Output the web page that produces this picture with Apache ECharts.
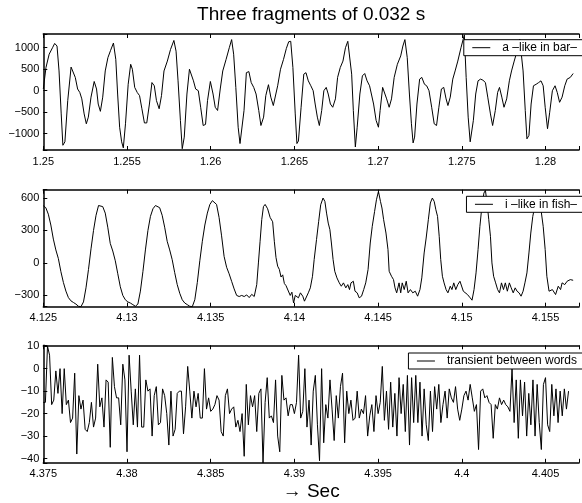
<!DOCTYPE html>
<html><head><meta charset="utf-8">
<script src="https://cdn.jsdelivr.net/npm/echarts@6/dist/echarts.min.js"></script>
<style>html,body{margin:0;padding:0;background:#fff}#c{width:582px;height:503px}</style>
</head><body><div id="c"></div>
<script>
// ---- data ----
const chartTitle = 'Three fragments of 0.032 s';
const xName = '\u2192 Sec';
const seriesNames = ['a \u2013like in bar\u2013', 'i \u2013like in fish\u2013', 'transient between words'];
const startTimes = [1.25, 4.125, 4.375];      // s
const fragmentLength = 0.032;                  // s
const xTickStep = 0.005;                       // s
const yTickSteps = [500, 300, 10];
const yLimits = [[-1380, 1320], [-404, 676], [-41.9, 10.4]];

// fragment 1: time offsets (ms) and amplitude
const ms1 = [0.00,0.16,0.35,0.55,0.68,0.82,0.94,1.07,1.17,1.29,1.46,1.66,1.75,1.91,2.05,2.18,2.30,2.44,2.57,2.69,2.85,3.04,3.18,3.28,3.41,3.55,3.70,3.86,4.02,4.19,4.33,4.44,4.56,4.68,4.78,4.91,5.07,5.22,5.32,5.46,5.61,5.75,5.89,6.04,6.18,6.34,6.49,6.63,6.76,6.92,7.06,7.21,7.41,7.60,7.80,7.93,8.05,8.19,8.30,8.42,8.58,8.73,8.83,8.97,9.10,9.26,9.40,9.55,9.69,9.81,9.98,10.14,10.27,10.41,10.57,10.72,10.92,11.11,11.25,11.37,11.50,11.64,11.75,11.85,11.99,12.13,12.28,12.42,12.57,12.71,12.87,13.00,13.16,13.29,13.45,13.59,13.74,13.84,14.00,14.17,14.35,14.52,14.66,14.78,14.91,15.05,15.15,15.24,15.40,15.56,15.69,15.83,15.98,16.12,16.24,16.37,16.49,16.63,16.76,16.90,17.02,17.15,17.29,17.45,17.58,17.74,17.90,18.05,18.19,18.29,18.42,18.52,18.64,18.75,18.91,19.06,19.20,19.34,19.49,19.59,19.73,19.88,20.02,20.12,20.27,20.37,20.51,20.66,20.80,20.96,21.15,21.35,21.48,21.60,21.74,21.87,21.99,22.09,22.18,22.32,22.48,22.61,22.77,22.90,23.04,23.20,23.35,23.49,23.63,23.78,23.92,24.06,24.17,24.31,24.46,24.60,24.76,24.95,25.15,25.26,25.38,25.50,25.58,25.69,25.83,25.97,26.12,26.26,26.41,26.55,26.71,26.84,27.00,27.14,27.25,27.39,27.52,27.68,27.84,27.97,28.13,28.30,28.46,28.66,28.79,28.89,29.01,29.14,29.28,29.44,29.59,29.73,29.86,29.98,30.12,30.25,30.41,30.57,30.70,30.84,30.99,31.15,31.29,31.48,31.65];
const v1 = [40,540,850,1000,1100,1040,460,-540,-1270,-1190,-230,550,550,310,40,-40,-190,-540,-770,-615,-150,215,40,-310,-480,-150,460,770,940,1110,730,-77,-850,-1190,-1330,-770,150,615,500,77,-40,-115,-420,-750,-750,-310,190,115,-230,-420,-115,460,690,960,1170,920,230,-690,-1350,-1080,-77,500,520,230,40,0,-385,-810,-785,-230,215,-77,-385,-460,40,460,730,1000,1190,850,77,-850,-1230,-1270,-460,420,445,190,77,-77,-460,-810,-615,-115,140,-150,-345,-345,115,500,730,985,1140,1150,540,-540,-1230,-1170,-385,385,420,230,115,0,-310,-615,-810,-460,0,77,-77,-310,-385,-190,310,540,690,1000,1150,1110,385,-460,-1310,-850,-77,345,400,230,115,77,-310,-690,-850,-460,77,115,-190,-385,-190,310,615,810,1040,1190,770,-77,-770,-1215,-1080,-310,270,310,150,115,0,-385,-770,-810,-385,40,77,-190,-345,-150,270,460,690,1000,1300,310,-615,-1190,-1190,-690,-77,230,270,245,190,-150,-540,-810,-460,-40,77,-150,-385,-190,230,460,690,920,1200,460,-460,-1120,-1040,-310,115,150,190,230,115,-385,-885,-500,0,115,-40,-270,-150,115,270,310,400];

// fragment 2: time offsets (ms) and amplitude
const ms2 = [0.00,0.15,0.30,0.45,0.60,0.75,0.90,1.05,1.20,1.35,1.50,1.65,1.80,1.95,2.10,2.25,2.40,2.55,2.70,2.85,3.00,3.15,3.30,3.40,3.55,3.70,3.85,4.00,4.15,4.30,4.45,4.60,4.75,4.90,5.05,5.20,5.35,5.50,5.65,5.80,5.95,6.10,6.25,6.40,6.55,6.70,6.80,6.95,7.10,7.25,7.40,7.55,7.70,7.85,8.00,8.15,8.30,8.45,8.60,8.75,8.90,9.05,9.20,9.35,9.50,9.65,9.80,9.95,10.10,10.20,10.35,10.50,10.65,10.80,10.95,11.10,11.25,11.40,11.55,11.70,11.85,12.00,12.15,12.30,12.45,12.60,12.75,12.85,12.95,13.05,13.15,13.25,13.40,13.55,13.70,13.80,13.90,14.00,14.10,14.20,14.30,14.40,14.50,14.60,14.75,14.85,14.95,15.05,15.24,15.36,15.50,15.60,15.69,15.83,15.95,16.08,16.18,16.32,16.45,16.57,16.71,16.82,16.92,17.02,17.12,17.21,17.31,17.41,17.54,17.68,17.80,17.93,18.07,18.19,18.29,18.38,18.52,18.62,18.75,18.87,19.01,19.14,19.26,19.40,19.53,19.65,19.79,19.90,20.02,20.14,20.23,20.33,20.47,20.59,20.66,20.80,20.92,21.01,21.11,21.25,21.35,21.44,21.56,21.68,21.79,21.93,22.07,22.22,22.36,22.50,22.61,22.75,22.87,23.00,23.12,23.24,23.35,23.45,23.55,23.65,23.74,23.84,23.94,24.06,24.17,24.31,24.41,24.52,24.64,24.76,24.89,24.99,25.09,25.19,25.34,25.50,25.61,25.73,25.85,25.97,26.08,26.20,26.32,26.41,26.51,26.61,26.71,26.80,26.90,27.02,27.14,27.25,27.37,27.49,27.60,27.72,27.84,27.95,28.07,28.19,28.30,28.42,28.54,28.66,28.77,28.89,29.01,29.12,29.24,29.36,29.59,29.73,29.86,29.98,30.08,30.21,30.41,30.60,30.76,30.90,30.99,31.15,31.29,31.48,31.65];
const v2 = [528,510,450,350,220,120,40,-80,-180,-260,-320,-350,-365,-380,-400,-404,-360,-230,-60,130,300,440,530,540,520,460,330,180,110,20,-100,-220,-300,-340,-360,-370,-385,-400,-380,-260,-80,120,300,430,500,530,530,510,440,330,200,120,30,-90,-200,-280,-340,-370,-385,-400,-404,-340,-180,20,200,350,460,540,575,585,540,420,250,60,-40,-100,-170,-240,-300,-310,-300,-310,-295,-320,-290,-310,-200,0,200,400,520,540,500,420,380,200,50,-30,-60,-130,-110,-190,-210,-200,-300,-270,-370,-300,-322,-276,-307,-353,-344,-276,-230,-123,31,215,384,537,599,568,460,368,307,184,31,-77,-138,-184,-215,-184,-230,-200,-246,-184,-169,-261,-276,-322,-307,-246,-184,-61,184,338,476,583,660,568,507,399,276,123,-77,-123,-154,-230,-276,-184,-276,-184,-246,-169,-276,-246,-276,-261,-307,-246,-138,92,230,399,553,599,568,491,430,246,31,-123,-184,-246,-276,-215,-246,-184,-246,-200,-169,-154,-261,-276,-292,-322,-344,-246,-92,123,338,522,645,670,553,399,246,0,-123,-184,-246,-276,-184,-246,-184,-261,-184,-230,-276,-230,-261,-276,-307,-261,-184,-92,92,276,430,522,614,491,338,123,-123,-261,-246,-292,-215,-246,-184,-200,-169,-154,-160];

// fragment 3: samples at 8 kHz
const sampleStep3 = 0.125; // ms
const v3 = [-15,-15,10,6,-16,-14,-1,-11,0,-20,0,-16,-14,-24,-22,-2,-38,-12,-18,-14,-27,-28,-24,-15,-26,-22,2,-17,-13,-26,-5,-6,-35,5,-8,-13,-13,-25,2,-5,
-37,6,-10,-25,-9,-26,6,-26,-26,-5,-10,-9,-30,-12,-8,-25,-24,-9,-12,-20,-34,-10,-30,-27,-11,-10,-10,-29,-17,1,-10,-22,-10,-17,-11,-22,-22,0,-18,-13,
-19,-18,-16,-12,-14,-28,-30,-12,-9,-20,-18,-17,-26,-23,-28,-20,-39,-7,-25,-12,-17,-12,-28,-11,-9,-42,-15,-4,-22,-21,-24,-5,-30,-37,-3,-14,-13,-21,-16,-16,
-20,-15,6,-22,-19,0,-26,-14,-34,-10,-3,-25,-41,0,-33,-16,-22,-5,-18,-32,-12,-22,-8,-2,-33,-10,-20,-14,-23,-22,-10,-22,-18,-20,-12,-30,-21,-16,-28,-12,
-20,-15,1,-23,-10,-27,-6,-26,-11,-30,-4,-20,-7,-28,-3,-34,-4,-24,-3,-24,-6,-30,-9,-25,-32,-10,-28,-8,-18,-7,-24,-16,-10,-22,-9,-13,-15,-8,-18,-23,
-18,-12,-10,-14,-7,-13,-19,-16,-36,-10,-9,-13,-12,-15,-16,-31,-16,-18,-13,-16,-14,-16,-17,-19,0,-24,-5,-31,-5,-21,-6,-30,-11,-25,-5,-30,-7,-24,-36,-7,
-4,-25,-28,-7,-21,-9,-24,-10,-21,-9,-18,-10];

// ---- build ----
const FONT = 'Liberation Sans, Arial, Helvetica, sans-serif';
const series1 = ms1.map((m, i) => [startTimes[0] + m / 1000, v1[i]]);
const series2 = ms2.map((m, i) => [startTimes[1] + m / 1000, v2[i]]);
const series3 = v3.map((v, i) => [startTimes[2] + i * sampleStep3 / 1000, v]);
const allData = [series1, series2, series3];

const gridTops = [34, 189.7, 345.3];
const gridHeights = [116, 117, 117.5];
const legendTops = [39.7, 196.3, 353];

function isMult(v, step) { const k = v / step; return Math.abs(k - Math.round(k)) < 1e-6; }
function fmtX(v) { return isMult(v, xTickStep) ? String(+v.toFixed(3)) : ''; }
function fmtY(step) { return v => { if (!isMult(v, step)) return ''; const r = Math.round(v); return r < 0 ? '\u2212' + (-r) : String(r); }; }

const axisLine = { show: true, onZero: false, lineStyle: { color: '#000', width: 1.5 } };
const tick = { show: true, inside: true, length: 4, lineStyle: { color: '#000', width: 1 } };

const grid = [], xAxis = [], yAxis = [], series = [], legend = [];
for (let g = 0; g < 3; g++) {
  grid.push({ left: 43.3, right: -8.5, top: gridTops[g], height: gridHeights[g], containLabel: false });
  const xmin = startTimes[g], xmax = +(startTimes[g] + fragmentLength).toFixed(4);
  xAxis.push({
    type: 'value', gridIndex: g, position: 'bottom', min: xmin, max: xmax, interval: xTickStep,
    axisLine, axisTick: tick, splitLine: { show: false },
    axisLabel: { formatter: fmtX, color: '#000', fontSize: 11, fontFamily: FONT, margin: 6 },
    name: g === 2 ? xName : '', nameLocation: 'middle', nameGap: 19,
    nameTextStyle: { color: '#000', fontSize: 19, fontFamily: FONT }
  });
  xAxis.push({
    type: 'value', gridIndex: g, position: 'top', min: xmin, max: xmax, interval: xTickStep,
    axisLine, axisTick: tick, splitLine: { show: false }, axisLabel: { show: false },
    name: g === 0 ? chartTitle : '', nameLocation: 'middle', nameGap: 10,
    nameTextStyle: { color: '#000', fontSize: 19, fontFamily: FONT }
  });
  yAxis.push({
    type: 'value', gridIndex: g, position: 'left', min: yLimits[g][0], max: yLimits[g][1],
    splitNumber: [5, 4, 5][g],
    axisLine, axisTick: tick, splitLine: { show: false },
    axisLabel: { formatter: fmtY(yTickSteps[g]), color: '#000', fontSize: 11, fontFamily: FONT, margin: 4 }
  });
  series.push({
    name: seriesNames[g], type: 'line', xAxisIndex: 2 * g, yAxisIndex: g,
    data: allData[g], symbol: 'none', showSymbol: false,
    lineStyle: { color: '#000', width: 1 }, itemStyle: { color: '#000' }, silent: true
  });
  legend.push({
    data: [seriesNames[g]], top: legendTops[g], right: -3, orient: 'horizontal',
    itemWidth: 18, itemHeight: 10, itemGap: 0, selectedMode: false,
    itemStyle: { opacity: 0 }, lineStyle: { color: '#000', width: 1 },
    padding: [2, 8, 2, 8], borderColor: '#000', borderWidth: 1, backgroundColor: '#fff',
    formatter: n => '{t|' + n + '}',
    textStyle: { color: '#000', fontSize: 12, fontFamily: FONT, rich: { t: { fontSize: 12, fontFamily: FONT, color: '#000', padding: [0, 0, 0, 7] } } }
  });
}

const chart = echarts.init(document.getElementById('c'), null, { renderer: 'canvas' });
chart.setOption({ animation: false, backgroundColor: '#fff', grid, xAxis, yAxis, series, legend });
</script></body></html>
